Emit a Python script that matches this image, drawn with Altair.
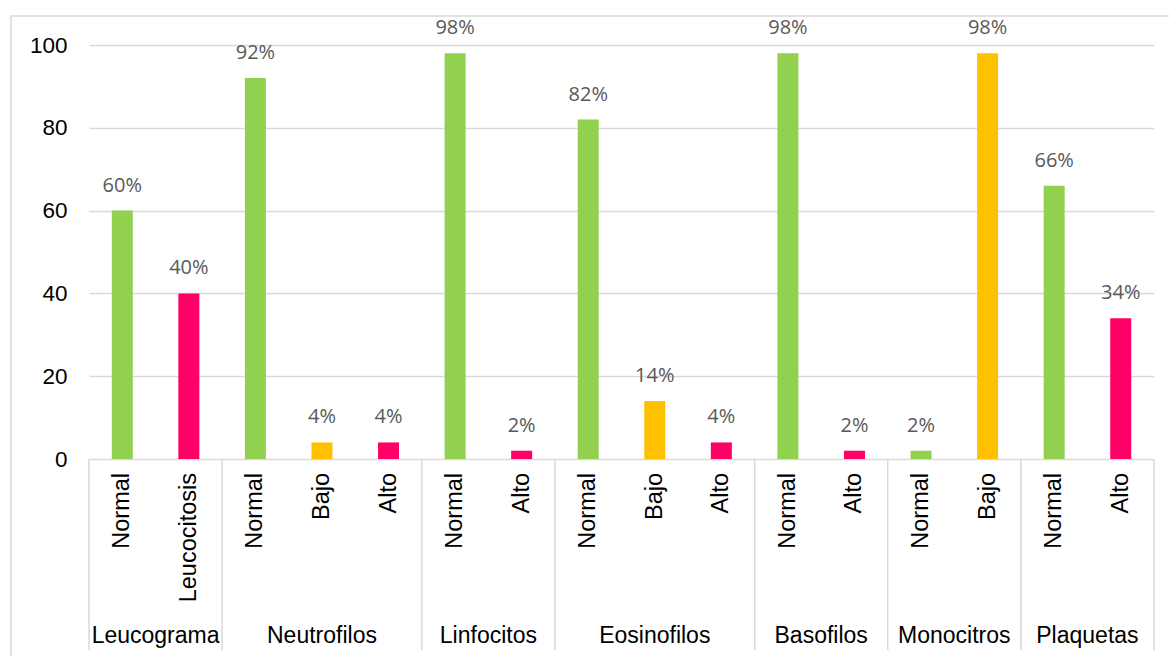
import altair as alt
import pandas as pd

groups = ["Leucograma", "Neutrofilos", "Linfocitos", "Eosinofilos", "Basofilos", "Monocitros", "Plaquetas"]
items = [
    ["Normal", "Leucocitosis"],
    ["Normal", "Bajo", "Alto"],
    ["Normal", "Alto"],
    ["Normal", "Bajo", "Alto"],
    ["Normal", "Alto"],
    ["Normal", "Bajo"],
    ["Normal", "Alto"],
]
values = [
    [60, 40],
    [92, 4, 4],
    [98, 2],
    [82, 14, 4],
    [98, 2],
    [2, 98],
    [66, 34],
]
status_colors = {"Normal": "#92D050", "Bajo": "#FFC000", "Alto": "#FF0066", "Leucocitosis": "#FF0066"}

rows, bounds, gl = [], [0], []
i = 0
for g, its, vs in zip(groups, items, values):
    start = i
    for it, v in zip(its, vs):
        rows.append({"group": g, "item": it, "value": v, "pos": i + 0.5,
                     "label": f"{v}%", "color": status_colors[it]})
        i += 1
    bounds.append(i)
    gl.append({"group": g, "pos": (start + i) / 2})
df = pd.DataFrame(rows)
bdf = pd.DataFrame({"b": bounds})
gdf = pd.DataFrame(gl)
n = i

xs = alt.Scale(domain=[0, n], nice=False, zero=False, padding=0)
ys = alt.Scale(domain=[0, 100], nice=False, padding=0)

bars = alt.Chart(df).mark_bar(size=21).encode(
    x=alt.X("pos:Q", scale=xs, axis=None),
    y=alt.Y("value:Q", scale=ys, axis=alt.Axis(
        values=[0, 20, 40, 60, 80, 100], title=None, domain=False, ticks=False,
        grid=True, gridColor="#D9D9D9", gridWidth=1.3,
        labelFont="Liberation Sans", labelFontSize=22.5, labelColor="#000000",
        labelPadding=22)),
    color=alt.Color("color:N", scale=None),
)

vlabels = alt.Chart(df).mark_text(font="Open Sans", fontSize=20, color="#595959",
                                   baseline="middle", dy=-25).encode(
    x=alt.X("pos:Q", scale=xs), y=alt.Y("value:Q", scale=ys), text="label:N")

ilabels = alt.Chart(df).mark_text(font="Liberation Sans", fontSize=23.5, color="#000000",
                                  angle=270, align="right", baseline="middle").encode(
    x=alt.X("pos:Q", scale=xs), y=alt.value(428), text="item:N")

glabels = alt.Chart(gdf).mark_text(font="Liberation Sans", fontSize=23, color="#000000",
                                   baseline="middle").encode(
    x=alt.X("pos:Q", scale=xs), y=alt.value(591), text="group:N")

seps = alt.Chart(bdf).mark_rule(color="#D9D9D9", strokeWidth=1.5).encode(
    x=alt.X("b:Q", scale=xs), y=alt.value(414), y2=alt.value(605))

border = alt.Chart(pd.DataFrame({"k": [0]})).mark_rect(
    fill=None, stroke="#D9D9D9", strokeWidth=1.5).encode(
    x=alt.value(-78), x2=alt.value(1130), y=alt.value(-29), y2=alt.value(640))

chart = alt.layer(border, bars, vlabels, ilabels, glabels, seps).properties(
    width=1065, height=414,
    padding={"left": 89, "top": 45, "right": 15, "bottom": 197},
    autosize=alt.AutoSizeParams(type="none"),
).configure_view(stroke=None)

chart.save("out.html", embed_options={"renderer": "svg", "actions": False})
